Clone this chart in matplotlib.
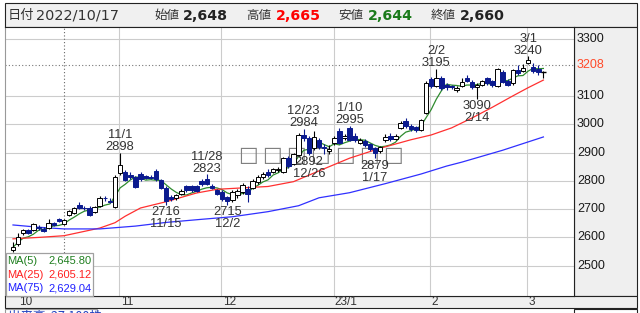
import matplotlib
matplotlib.use("Agg")
import matplotlib.pyplot as plt
import matplotlib.transforms as mtrans
import numpy as np
import pandas as pd
from matplotlib.patches import Rectangle

# ---------------- data ----------------
opens = [2555, 2577, 2615, 2625, 2626, 2636, 2630, 2633, 2650, 2665,
         2648, 2679, 2687, 2714, 2705, 2704, 2691, 2711, 2740, 2730,
         2709, 2827, 2832, 2822, 2815, 2825, 2818, 2812, 2835, 2803,
         2775, 2742, 2738, 2755, 2780, 2782, 2782, 2800, 2805, 2782,
         2766, 2762, 2742, 2732, 2750, 2762, 2770, 2775, 2797, 2815,
         2832, 2832, 2838, 2832, 2880, 2860, 2890, 2962, 2952, 2915,
         2945, 2920, 2905, 2934, 2975, 2950, 2985, 2960, 2935, 2940,
         2930, 2915, 2905, 2944, 2960, 2948, 2987, 3010, 2993, 2990,
         2980, 3040, 3160, 3135, 3165, 3138, 3135, 3120, 3135, 3165,
         3150, 3133, 3140, 3162, 3152, 3135, 3185, 3152, 3145, 3192,
         3188, 3218, 3203, 3195, 3186]
highs = [2585, 2614, 2630, 2630, 2652, 2645, 2636, 2665, 2655, 2668,
         2665, 2696, 2708, 2726, 2712, 2710, 2712, 2745, 2748, 2740,
         2820, 2898, 2838, 2830, 2818, 2832, 2822, 2822, 2840, 2808,
         2780, 2750, 2755, 2770, 2785, 2785, 2786, 2805, 2823, 2788,
         2770, 2766, 2748, 2768, 2770, 2792, 2780, 2806, 2820, 2830,
         2840, 2846, 2850, 2885, 2886, 2900, 2968, 2984, 2958, 2975,
         2950, 2930, 2925, 2960, 2985, 2965, 2995, 2970, 2950, 2946,
         2935, 2920, 2922, 2965, 2968, 2966, 3010, 3022, 3000, 2995,
         3020, 3152, 3168, 3195, 3170, 3145, 3140, 3135, 3162, 3175,
         3155, 3145, 3156, 3168, 3156, 3198, 3190, 3158, 3195, 3210,
         3212, 3240, 3215, 3210, 3188]
lows = [2548, 2570, 2610, 2612, 2622, 2625, 2620, 2628, 2640, 2655,
        2644, 2675, 2682, 2700, 2698, 2675, 2688, 2708, 2730, 2720,
        2703, 2822, 2798, 2808, 2775, 2800, 2805, 2805, 2800, 2770,
        2716, 2728, 2732, 2750, 2760, 2760, 2760, 2782, 2785, 2770,
        2750, 2728, 2715, 2726, 2740, 2755, 2725, 2770, 2790, 2808,
        2815, 2826, 2830, 2828, 2845, 2855, 2885, 2940, 2892, 2908,
        2912, 2895, 2895, 2925, 2930, 2945, 2940, 2938, 2930, 2920,
        2905, 2879, 2898, 2938, 2942, 2944, 2982, 2988, 2975, 2972,
        2975, 3035, 3128, 3130, 3120, 3122, 3125, 3115, 3130, 3148,
        3125, 3090, 3135, 3140, 3132, 3130, 3145, 3135, 3140, 3175,
        3185, 3212, 3180, 3175, 3163]
closes = [2565, 2602, 2625, 2617, 2648, 2634, 2624, 2652, 2645, 2657,
          2660, 2692, 2704, 2704, 2704, 2680, 2708, 2739, 2739, 2726,
          2815, 2856, 2803, 2815, 2779, 2805, 2810, 2811, 2805, 2775,
          2730, 2736, 2750, 2765, 2768, 2766, 2765, 2788, 2790, 2776,
          2755, 2735, 2730, 2762, 2765, 2785, 2755, 2800, 2815, 2825,
          2822, 2840, 2840, 2880, 2852, 2895, 2962, 2950, 2899, 2956,
          2920, 2915, 2912, 2952, 2935, 2958, 2945, 2944, 2945, 2925,
          2912, 2900, 2918, 2956, 2948, 2960, 3004, 2992, 2982, 2980,
          3015, 3147, 3135, 3165, 3129, 3130, 3132, 3128, 3150, 3152,
          3130, 3140, 3152, 3145, 3138, 3195, 3150, 3140, 3190, 3180,
          3200, 3228, 3188, 3183, 3186]

ma25_idx = [0, 5, 10, 17, 20, 22, 25, 30, 36, 40, 45, 50, 55, 60, 66, 72, 78, 82, 86, 90, 94, 98, 101, 104]
ma25_val = [2595, 2600, 2606, 2633, 2652, 2675, 2704, 2726, 2757, 2770, 2775, 2780, 2797, 2835, 2880,
            2915, 2945, 2962, 2987, 3022, 3060, 3100, 3129, 3156]
ma75_idx = [0, 5, 10, 17, 24, 30, 37, 43, 50, 56, 60, 66, 73, 80, 85, 88, 96, 104]
ma75_val = [2644, 2636, 2630, 2630, 2640, 2653, 2664, 2673, 2691, 2712, 2740, 2758, 2790, 2824, 2852,
            2866, 2908, 2955]

month_labels = ['10', '11', '12', '23/1', '2', '3']
month_starts = [1, 21, 41, 63, 82, 101]

y_ticks = [2500, 2600, 2700, 2800, 2900, 3000, 3100, 3300]
last_price = 3208
cursor_idx = 10

hi_marks = [(21, '11/1'), (38, '11/28'), (57, '12/23'), (66, '1/10'), (83, '2/2'), (101, '3/1')]
lo_marks = [(30, '11/15'), (42, '12/2'), (58, '12/26'), (71, '1/17'), (91, '2/14')]

header_date = '2022/10/17'
header_items = [('始値', '2,648', '#222222'), ('高値', '2,665', '#ff0000'),
                ('安値', '2,644', '#1a7a1a'), ('終値', '2,660', '#222222')]
legend_items = [('MA(5)', '2,645.80', '#1f7f1f'), ('MA(25)', '2,605.12', '#ff2020'),
                ('MA(75)', '2,629.04', '#2020ff')]
volume_text = '出来高  27,100株'
tofu_text = '□□□□□□□'

# ---------------- figure ----------------
W, H = 640, 313
fig = plt.figure(figsize=(W / 100, H / 100), dpi=100)
fig.patch.set_facecolor('white')

def fx(px):
    return px / W

def fy(py):
    return 1 - py / H

def prect(x0, y0, x1, y1, fc, ec, lw=0.8, z=1):
    r = Rectangle((fx(x0), fy(y1)), (x1 - x0) / W, (y1 - y0) / H,
                  transform=fig.transFigure, facecolor=fc, edgecolor=ec,
                  linewidth=lw, zorder=z)
    fig.add_artist(r)
    return r

NUM = 'Liberation Sans'
CJK = ['Noto Sans CJK JP', 'DejaVu Sans']

# panels around the plot (drawn below the axes)
prect(5, 3, 637, 27, '#f0f0f0', '#222222')
prect(574, 27, 637, 296, '#efefef', '#222222')
prect(5, 296, 637, 308, '#efefef', '#222222')
prect(5, 308.5, 97, 330, 'white', '#999999')
prect(574, 308.5, 637, 330, 'white', '#222222')

PX_L, PX_R, PX_T, PX_B = 5, 574, 27, 296
ax = fig.add_axes([fx(PX_L), fy(PX_B), (PX_R - PX_L) / W, (PX_B - PX_T) / H])
ax.set_zorder(2)
ax.set_xlim(-1.57, 110)
ax.set_ylim(2393, 3343.5)
ax.set_xticks([])
ax.set_yticks([])
for s in ax.spines.values():
    s.set_color('#222222')
    s.set_linewidth(0.8)
ax.spines['left'].set_color('#999999')

fig_y = mtrans.blended_transform_factory(fig.transFigure, ax.transData)
x_fig = mtrans.blended_transform_factory(ax.transData, fig.transFigure)

# grid
ax.hlines(y_ticks, -2, 111, color='#cccccc', lw=0.8, zorder=0)
ax.vlines([m - 0.15 for m in month_starts[1:]], 2300, 3400, color='#cccccc', lw=0.8, zorder=0)

# tofu boxes (behind candles)
for k, ch in enumerate(tofu_text):
    ax.text(fx(247.5 + 24.3 * k), fy(155), ch, transform=fig.transFigure, ha='center', va='center',
            fontsize=15, family='DejaVu Sans', color='#808080', zorder=1)

# cursor / last price dotted lines
ax.axvline(cursor_idx, color='#666666', lw=0.8, ls=(0, (1, 2)), zorder=1)
ax.axhline(last_price, color='#777777', lw=0.8, ls=(0, (1, 2)), zorder=1)

# moving averages (behind candles)
c = np.array(closes, float)
x = np.arange(len(c))
ma5 = pd.Series(c).rolling(5, min_periods=1).mean()
ax.plot(x, ma5, color='#2e8b2e', lw=0.9, zorder=1.5)
ax.plot(ma25_idx, ma25_val, color='#ff3030', lw=0.9, zorder=1.5)
ax.plot(ma75_idx, ma75_val, color='#3030ff', lw=0.9, zorder=1.5)

# candles
o = np.array(opens, float)
h = np.array(highs, float)
l = np.array(lows, float)
NAVY = '#0b1a8f'
up = c > o
dn = c < o
fl = c == o
ax.vlines(x[up], l[up], h[up], color='black', lw=0.8, zorder=2)
ax.vlines(x[dn], l[dn], h[dn], color=NAVY, lw=0.8, zorder=2)
ax.vlines(x[fl], l[fl], h[fl], color='black', lw=0.8, zorder=2)
ax.bar(x[up], c[up] - o[up], bottom=o[up], width=0.88, facecolor='white',
       edgecolor='black', linewidth=0.7, zorder=3)
ax.bar(x[dn], o[dn] - c[dn], bottom=c[dn], width=0.88, facecolor=NAVY,
       edgecolor=NAVY, linewidth=0.7, zorder=3)
ax.hlines(c[fl], x[fl] - 0.44, x[fl] + 0.44, color='black', lw=1.0, zorder=3)

# high / low annotations
for i, d in hi_marks:
    ax.annotate(str(int(h[i])), (i, h[i]), xytext=(0, 1.9), textcoords='offset points',
                ha='center', va='baseline', fontsize=9.3, family=NUM, color='#333333', zorder=6)
    ax.annotate(d, (i, h[i]), xytext=(0, 10.6), textcoords='offset points',
                ha='center', va='baseline', fontsize=9.3, family=NUM, color='#333333', zorder=6)
for i, d in lo_marks:
    ax.annotate(str(int(l[i])), (i, l[i]), xytext=(0, -7.5), textcoords='offset points',
                ha='center', va='baseline', fontsize=9.3, family=NUM, color='#333333', zorder=6)
    ax.annotate(d, (i, l[i]), xytext=(0, -16.1), textcoords='offset points',
                ha='center', va='baseline', fontsize=9.3, family=NUM, color='#333333', zorder=6)

# MA legend box
lg = Rectangle((fx(5.7), fy(296)), (93 - 5.7) / W, (296 - 253) / H, transform=fig.transFigure,
               facecolor='white', edgecolor='#a0a0a0', linewidth=0.9, zorder=8, clip_on=False)
ax.add_patch(lg)
for k, (name, val, col) in enumerate(legend_items):
    yy = fy(260.7 + k * 13.8)
    ax.text(fx(7), yy, name, transform=fig.transFigure, ha='left', va='center',
            fontsize=8, family=NUM, color=col, zorder=9, clip_on=False)
    ax.text(fx(92), yy, val, transform=fig.transFigure, ha='right', va='center',
            fontsize=8, family=NUM, color=col, zorder=9, clip_on=False)

# right axis labels
for v in y_ticks:
    ax.text(fx(577), v, str(v), transform=fig_y, ha='left', va='center', fontsize=9,
            family=NUM, color='#1a1a1a', clip_on=False)
ax.text(fx(577), last_price, str(last_price), transform=fig_y, ha='left', va='center',
        fontsize=9, family=NUM, color='#ff4a2a', clip_on=False)

# month labels
for m, lab in zip(month_starts, month_labels):
    ax.text(m + 0.1, fy(302), lab, transform=x_fig, ha='left', va='center', fontsize=8.5,
            family=NUM, color='#333333', clip_on=False)

# header
fig.text(fx(8), fy(15.5), '日付', ha='left', va='center', fontsize=9.5, family=CJK, color='#333333')
fig.text(fx(36), fy(15.5), header_date, ha='left', va='center', fontsize=10.4,
         family='DejaVu Sans', color='#333333')
hx = [(154, 182.5), (246, 275.7), (338, 368), (431, 460)]
for (lx, vx), (lab, val, col) in zip(hx, header_items):
    fig.text(fx(lx), fy(15.5), lab, ha='left', va='center', fontsize=9, family=CJK, color='#333333')
    fig.text(fx(vx), fy(15.5), val, ha='left', va='center', fontsize=10.2,
             family='DejaVu Sans', weight='bold', color=col)

# volume caption (cut off at the bottom edge)
fig.text(fx(8), fy(316), volume_text, ha='left', va='center', fontsize=9, family=CJK, color='#2040c0')

fig.savefig('out.png', dpi=100)
